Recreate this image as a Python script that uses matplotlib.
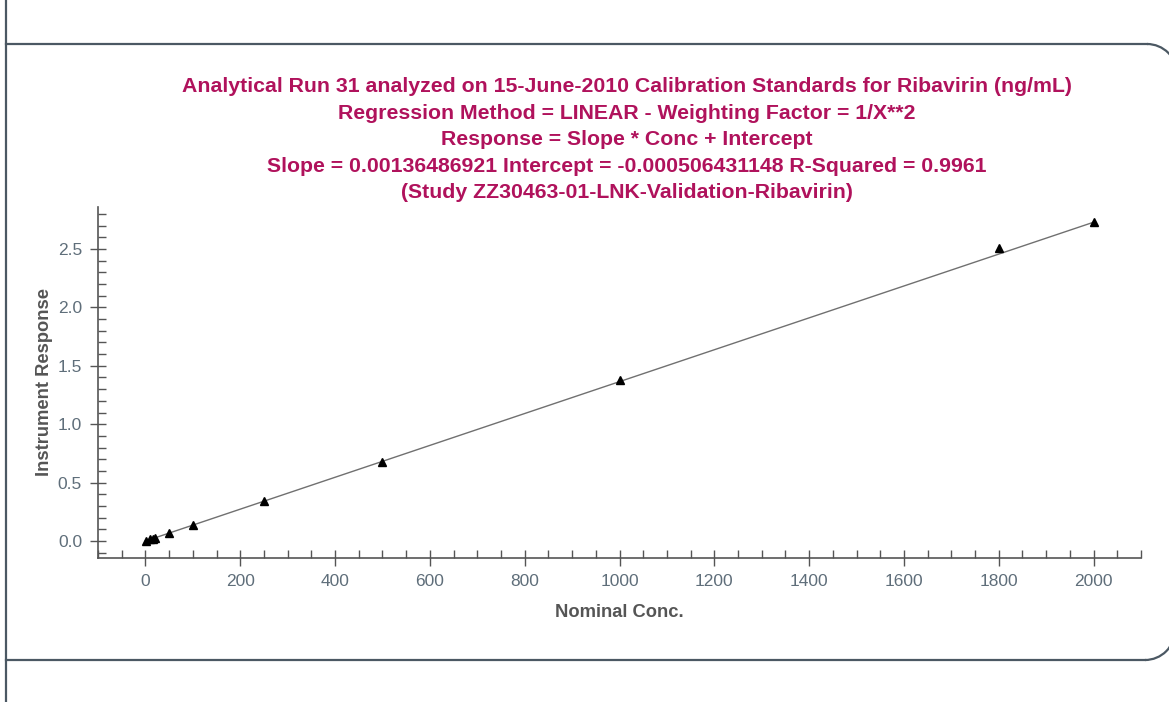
import numpy as np
import matplotlib
matplotlib.use('Agg')
import matplotlib.pyplot as plt
from matplotlib.patches import Arc
from matplotlib.ticker import MultipleLocator

# calibration standards (ng/mL) and measured instrument response
conc = [2, 10, 15, 20, 50, 100, 250, 500, 1000, 1800, 2000]
response = [0.002, 0.013, 0.020, 0.027, 0.072, 0.140, 0.342, 0.678, 1.376, 2.505, 2.730]

slope = 0.00136486921
intercept = -0.000506431148

title_lines = [
    'Analytical Run 31 analyzed on 15-June-2010 Calibration Standards for Ribavirin (ng/mL)',
    'Regression Method = LINEAR - Weighting Factor = 1/X**2',
    'Response = Slope * Conc + Intercept',
    'Slope = 0.00136486921 Intercept = -0.000506431148 R-Squared = 0.9961',
    '(Study ZZ30463-01-LNK-Validation-Ribavirin)',
]

plt.rcParams['font.family'] = ['Liberation Sans', 'DejaVu Sans']

W, H = 1169, 702
fig = plt.figure(figsize=(W / 100, H / 100), dpi=100)

# page frame drawn in pixel coordinates
frame = fig.add_axes([0, 0, 1, 1])
frame.set_xlim(0, W)
frame.set_ylim(H, 0)
frame.axis('off')
edge = '#4b5863'
r = 30
frame.plot([6, 6], [0, H], color=edge, lw=1.6)
frame.plot([6, 1147], [44, 44], color=edge, lw=1.6)
frame.plot([6, 1145], [660, 660], color=edge, lw=1.6)
frame.add_patch(Arc((1147, 44 + r), 2 * r, 2 * r, theta1=270, theta2=360, color=edge, lw=1.6))
frame.add_patch(Arc((1145, 660 - r), 2 * r, 2 * r, theta1=0, theta2=90, color=edge, lw=1.6))

y0 = 87
for i, line in enumerate(title_lines):
    frame.text(627, y0 + i * 26.4, line, ha='center', va='center',
               fontsize=15.3, fontweight='bold', color='#b0125c')

ax = fig.add_axes([98 / W, 1 - 557.7 / H, (1141 - 98) / W, (557.7 - 206.7) / H])
ax.patch.set_alpha(0)

xs = np.array([0, 2000])
ax.plot(xs, slope * xs + intercept, color='#707070', lw=1.0)
ax.plot(conc, response, linestyle='none', marker='^', color='black', markersize=5.5)

ax.set_xlim(-100, 2100)
ax.set_ylim(-0.143, 2.862)
ax.xaxis.set_major_locator(MultipleLocator(200))
ax.xaxis.set_minor_locator(MultipleLocator(50))
ax.yaxis.set_major_locator(MultipleLocator(0.5))
ax.yaxis.set_minor_locator(MultipleLocator(0.1))
ax.yaxis.set_major_formatter(matplotlib.ticker.FormatStrFormatter('%.1f'))

for side in ['top', 'right']:
    ax.spines[side].set_visible(False)
for side in ['left', 'bottom']:
    ax.spines[side].set_color('#555555')
    ax.spines[side].set_linewidth(1.2)

tick_col = '#5f6e7a'
ax.tick_params(which='major', direction='inout', length=11, width=1.0, color='#555555',
               labelsize=12.5, labelcolor=tick_col, pad=6)
ax.tick_params(which='minor', direction='in', length=6, width=1.0, color='#555555')

ax.set_xlabel('Nominal Conc.', fontsize=13.2, fontweight='bold', color='#555555', labelpad=11)
ax.set_ylabel('Instrument Response', fontsize=13.2, fontweight='bold', color='#555555', labelpad=3)

fig.savefig('out.png', dpi=100)
